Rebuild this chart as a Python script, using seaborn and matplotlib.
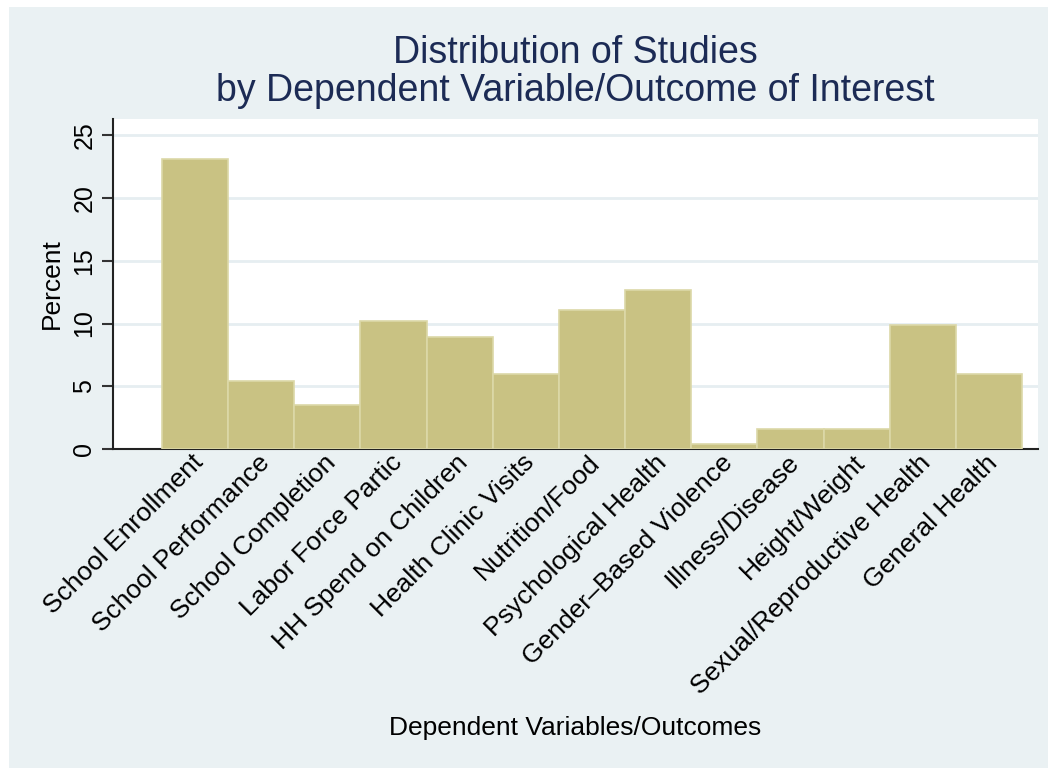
import matplotlib
matplotlib.use("Agg")
import matplotlib.pyplot as plt
import matplotlib.transforms as mtransforms
import seaborn as sns
import pandas as pd
from matplotlib.patches import Rectangle

# outcome categories and their share of studies (percent)
outcomes = ["School Enrollment", "School Performance", "School Completion",
            "Labor Force Partic", "HH Spend on Children", "Health Clinic Visits",
            "Nutrition/Food", "Psychological Health", "Gender\u2013Based Violence",
            "Illness/Disease", "Height/Weight", "Sexual/Reproductive Health",
            "General Health"]
percent = [23.1, 5.4, 3.5, 10.2, 8.9, 6.0, 11.1, 12.7, 0.4, 1.6, 1.6, 9.9, 6.0]
y_ticks = [0, 5, 10, 15, 20, 25]

df = pd.DataFrame({"outcome": outcomes, "percent": percent})

sns.set_style("white")
plt.rcParams["font.family"] = ["Liberation Sans", "DejaVu Sans"]
plt.rcParams["text.color"] = "black"
plt.rcParams["axes.labelcolor"] = "black"

bg = "#EAF1F3"
bar_color = "#C9C283"

fig = plt.figure(figsize=(10.52, 7.69), dpi=100)
fig.patch.set_facecolor("white")
# light outer panel (Stata-like graph region)
fig.patches.append(Rectangle((9 / 1052, 1 / 769), 1039 / 1052, 761 / 769,
                             transform=fig.transFigure, facecolor=bg,
                             edgecolor="none", zorder=-10))

ax = fig.add_axes([113 / 1052, 320 / 769, 925 / 1052, 330 / 769])
ax.set_facecolor("white")

sns.barplot(data=df, x="outcome", y="percent", color=bar_color, saturation=1,
            width=1.0, edgecolor="#DCD8A8", linewidth=1.2, ax=ax, zorder=3)

ax.set_xlim(-1.24, 12.74)
ax.set_ylim(0, 26.3)
ax.set_yticks(y_ticks)
ax.set_yticklabels([str(t) for t in y_ticks], rotation=90, va="center",
                   fontsize=18)
for t in y_ticks[1:]:
    ax.axhline(t, color="#E6EEF1", linewidth=2, zorder=1)

ax.tick_params(axis="y", length=8, width=1.5, color="#333333", pad=4,
               left=True, labelcolor="black")
ax.tick_params(axis="x", length=0, pad=1, labelcolor="black")
ax.set_xticks(range(len(outcomes)))
ax.set_xticklabels(outcomes, rotation=45, ha="right", va="top",
                   rotation_mode="anchor", fontsize=19)
shift = mtransforms.ScaledTranslation(-4 / 100, 0, fig.dpi_scale_trans)
for lab in ax.get_xticklabels():
    lab.set_transform(lab.get_transform() + shift)

for side in ["top", "right"]:
    ax.spines[side].set_visible(False)
for side in ["left", "bottom"]:
    ax.spines[side].set_color("#222222")
    ax.spines[side].set_linewidth(1.5)

ax.set_ylabel("Percent", fontsize=19, labelpad=6)
ax.set_xlabel("")
fig.text(575 / 1052, 1 - 728 / 769, "Dependent Variables/Outcomes",
         ha="center", va="center", fontsize=19, color="black")

fig.text(575 / 1052, 1 - 72 / 769,
         "Distribution of Studies\nby Dependent Variable/Outcome of Interest",
         ha="center", va="center", fontsize=27, color="#1C2B55",
         linespacing=1.1)

fig.savefig("out.png", dpi=100, facecolor=fig.get_facecolor())
